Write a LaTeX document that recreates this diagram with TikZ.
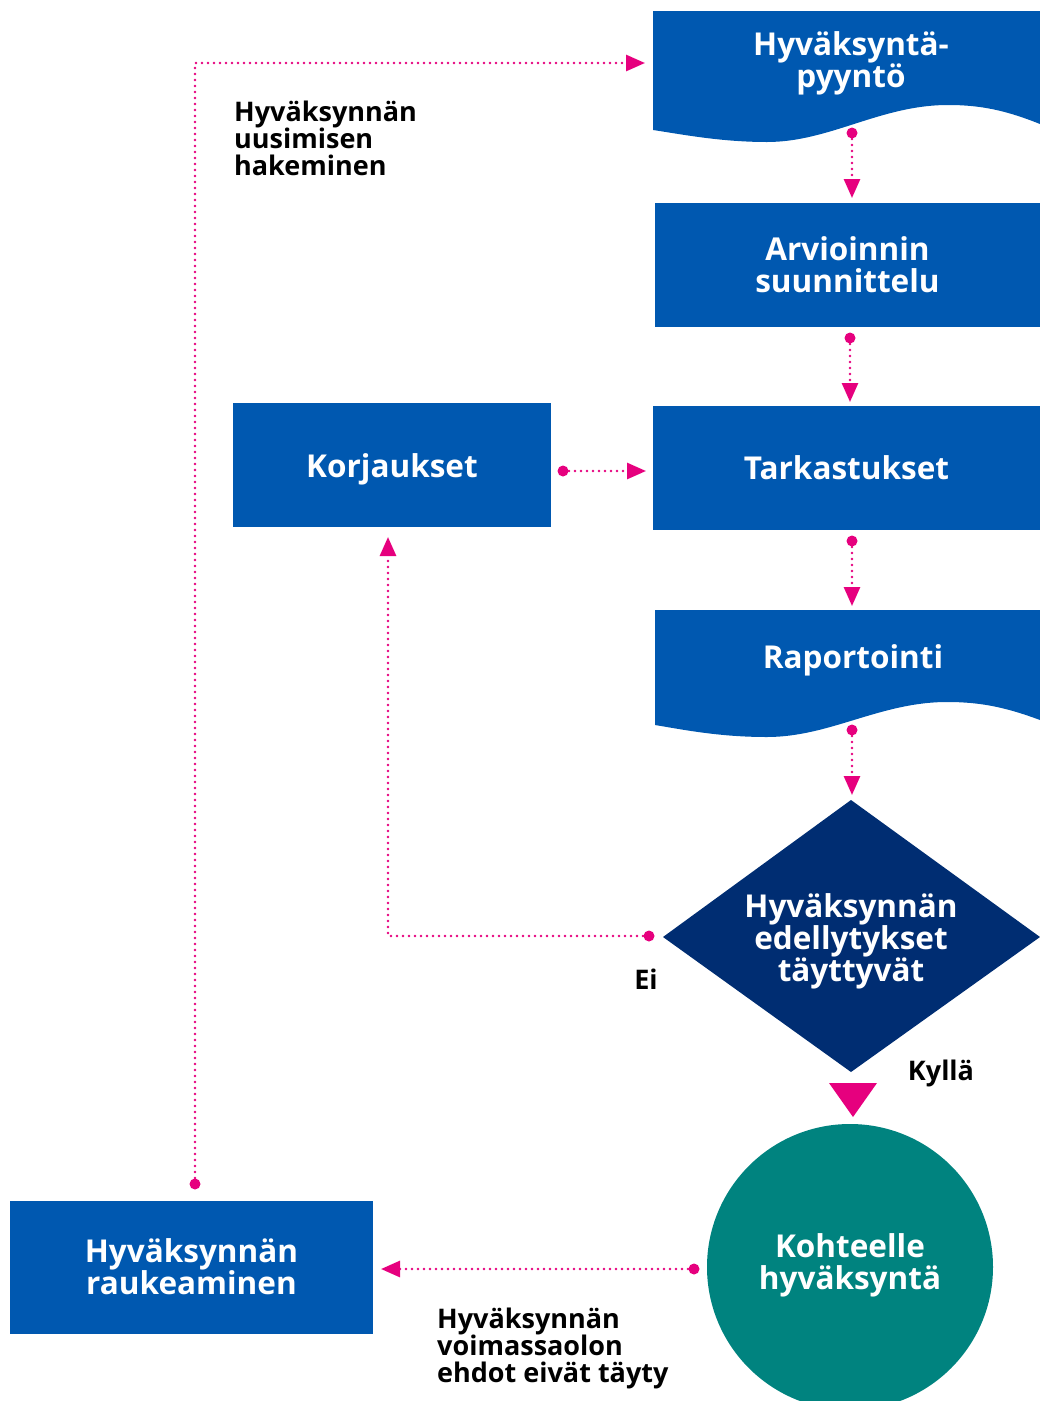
\documentclass[tikz,border=0pt]{standalone}
\usepackage{fontspec}
\setmainfont{Open Sans}
\usetikzlibrary{arrows.meta}
\definecolor{kblue}{HTML}{0058B0}
\definecolor{knavy}{HTML}{002D72}
\definecolor{kteal}{HTML}{00837F}
\definecolor{kpink}{HTML}{E6007E}
\begin{document}
\begin{tikzpicture}[x=1pt,y=-1pt,
  wtext/.style={text=white,font=\bfseries\fontsize{31.5}{32}\selectfont,align=center,inner sep=0pt},
  btext/.style={text=black,font=\bfseries\fontsize{27}{27}\selectfont,align=left,inner sep=0pt},
  box/.style={fill=kblue,inner sep=0pt,wtext},
  flow/.style={draw=kpink,line width=2.8pt,dash pattern=on 0pt off 6pt,line cap=round,
    -{Triangle[length=19pt,width=16pt,fill=kpink,color=kpink]}},
  dot/.style={fill=kpink}
]
\clip (0,0) rectangle (1040,1401);
% document shape 1
\fill[kblue] (653,11) -- (1040,11) -- (1040,124)
  .. controls (1005,110) and (980,105) .. (948,105)
  .. controls (880,105) and (830,142) .. (767,142)
  .. controls (720,142) and (680,134) .. (653,130) -- cycle;
\node[wtext] (req) at (851,63) {Hyväksyntä-\\pyyntö};
% Arvioinnin suunnittelu
\node[box,minimum width=385pt,minimum height=124pt] (plan) at (847.5,265) {Arvioinnin\\suunnittelu};
% Tarkastukset
\node[box,minimum width=387pt,minimum height=124pt] (insp) at (846.5,468) {Tarkastukset};
% Korjaukset
\node[box,minimum width=318pt,minimum height=124pt,text height=30pt,text depth=6pt] (korj) at (392,465) {Korjaukset};
% Raportointi document
\fill[kblue] (655,610) -- (1040,610) -- (1040,720)
  .. controls (1005,707) and (980,702) .. (947,702)
  .. controls (880,702) and (830,737) .. (767,737)
  .. controls (720,737) and (685,730) .. (655,725) -- cycle;
\node[wtext] (rep) at (853,660) {Raportointi};
% Diamond
\fill[knavy] (851,800) -- (1040,937) -- (851,1072) -- (663,937) -- cycle;
\node[wtext] (dec) at (851,941) {Hyväksynnän\\edellytykset\\täyttyvät};
% Circle
\fill[kteal] (850,1267) circle[radius=143pt];
\node[wtext] (appr) at (850,1265) {Kohteelle\\hyväksyntä};
% Raukeaminen
\node[box,minimum width=363pt,minimum height=133pt] (lapse) at (191.5,1267) {Hyväksynnän\\raukeaminen};
% Kyllä triangle
\fill[kpink] (829,1083) -- (877,1083) -- (853,1117) -- cycle;
% labels
\node[btext,anchor=north west] (lren) at (234,101) {Hyväksynnän\\uusimisen\\hakeminen};
\node[btext,anchor=north west] (lvoim) at (437,1308) {Hyväksynnän\\voimassaolon\\ehdot eivät täyty};
\node[btext] (lei) at (646,979) {Ei};
\node[btext] (lkyl) at (941,1073) {Kyllä};
% connector coordinates
\coordinate (d1) at (852,133); \coordinate (t1) at (852,198);
\coordinate (d2) at (850,338); \coordinate (t2) at (850,402);
\coordinate (d3) at (563,471); \coordinate (t3) at (646,471);
\coordinate (d4) at (852,541); \coordinate (t4) at (852,606);
\coordinate (d5) at (852,730); \coordinate (t5) at (852,795);
\coordinate (d6) at (649,936); \coordinate (t6) at (388,537);
\coordinate (d7) at (694,1269); \coordinate (t7) at (381,1269);
\coordinate (d8) at (195,1184); \coordinate (t8) at (645,63);
% connectors
\draw[flow] (d1) -- (t1);
\draw[flow] (d2) -- (t2);
\draw[flow] (d3) -- (t3);
\draw[flow] (d4) -- (t4);
\draw[flow] (d5) -- (t5);
\draw[flow] (d6) -| (t6);
\draw[flow] (d7) -- (t7);
\draw[flow] (d8) |- (t8);
\foreach \d in {d1,d2,d3,d4,d5,d6,d7,d8} \fill[dot] (\d) circle[radius=5.5pt];
\end{tikzpicture}
\end{document}
